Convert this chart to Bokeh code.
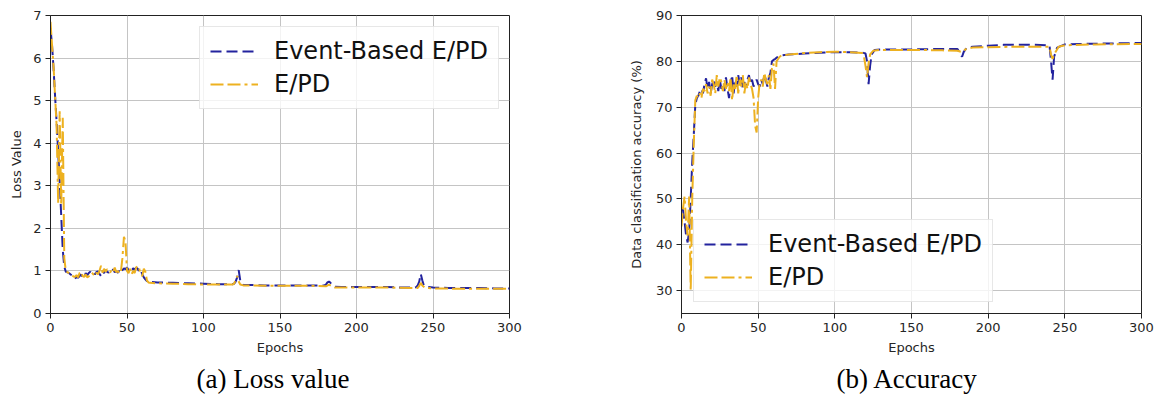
from bokeh.plotting import figure
from bokeh.layouts import row
from bokeh.models import Title, FixedTicker
from bokeh.embed import file_html
from bokeh.resources import INLINE

# ---------------- data ----------------
epochs_dense = list(range(0, 66))

loss_event_dense = [6.70, 6.30, 5.75, 5.10, 4.50, 3.80, 3.10, 2.30, 1.50, 1.10,
                    0.98, 0.97, 0.95, 0.92, 0.90, 0.88, 0.82, 0.86, 0.84, 0.88,
                    0.92, 0.85, 0.83, 0.95, 0.90, 0.95, 0.98, 0.93, 0.96, 0.92,
                    0.97, 0.99, 0.93, 0.88, 1.00, 0.95, 1.02, 0.98, 0.96, 1.00,
                    0.98, 1.04, 0.97, 0.99, 0.96, 1.00, 0.95, 1.02, 1.06, 1.04,
                    1.08, 1.02, 1.05, 1.00, 1.06, 1.03, 1.08, 1.05, 0.98, 1.02,
                    0.92, 0.85, 0.80, 0.76, 0.75, 0.74]
loss_event_tail_x = [70, 80, 90, 100, 110, 119, 120, 121, 122, 123, 124, 125, 126, 130, 140, 150,
                     160, 170, 179, 180, 181, 182, 183, 184, 186, 190, 200, 210, 220, 230, 238,
                     239, 240, 241, 242, 243, 244, 246, 250, 260, 270, 280, 290, 300]
loss_event_tail = [0.73, 0.72, 0.71, 0.70, 0.69, 0.69, 0.70, 0.75, 0.85, 1.02, 0.78, 0.70, 0.67, 0.67, 0.66, 0.66,
                   0.66, 0.66, 0.66, 0.68, 0.73, 0.75, 0.72, 0.68, 0.63, 0.62, 0.62, 0.62, 0.62, 0.61, 0.61,
                   0.62, 0.66, 0.75, 0.93, 0.78, 0.66, 0.63, 0.61, 0.60, 0.60, 0.60, 0.59, 0.59]

loss_epd_dense = [6.85, 6.30, 5.80, 5.10, 4.40, 2.60, 4.75, 2.55, 4.60, 1.30,
                  1.00, 0.97, 0.95, 0.92, 0.90, 0.87, 0.86, 0.90, 0.85, 0.95,
                  0.98, 0.88, 0.86, 0.92, 0.85, 0.87, 0.93, 0.96, 0.92, 0.88,
                  0.96, 0.92, 1.00, 1.12, 0.96, 1.05, 0.98, 1.04, 1.00, 0.96,
                  1.03, 0.98, 1.08, 0.97, 1.00, 0.94, 0.98, 1.30, 1.80, 1.70,
                  1.00, 0.95, 1.05, 0.92, 1.00, 0.95, 1.08, 1.12, 1.05, 0.92,
                  0.88, 1.05, 0.98, 0.78, 0.73, 0.72]
loss_epd_tail_x = [70, 80, 90, 100, 110, 119, 120, 121, 122, 123, 124, 126, 130, 150, 170, 180,
                   182, 184, 186, 200, 220, 240, 241, 242, 243, 245, 250, 270, 300]
loss_epd_tail = [0.71, 0.70, 0.69, 0.68, 0.68, 0.68, 0.70, 0.78, 0.88, 0.75, 0.68, 0.66, 0.66, 0.65, 0.65, 0.64,
                 0.68, 0.64, 0.61, 0.61, 0.61, 0.60, 0.65, 0.72, 0.66, 0.60, 0.59, 0.58, 0.58]

acc_event_dense = [48.0, 47.5, 45.0, 42.0, 40.5, 43.0, 50.0, 58.0, 64.0, 70.5,
                   72.0, 72.5, 73.5, 74.0, 73.0, 75.0, 76.3, 74.0, 75.5, 73.0,
                   75.0, 76.0, 74.5, 75.5, 73.5, 76.0, 74.0, 75.0, 73.5, 76.5,
                   74.0, 72.0, 75.0, 77.0, 73.0, 76.0, 74.5, 77.0, 75.0, 76.5,
                   74.0, 75.5, 74.5, 76.0, 77.0, 75.0, 76.0, 74.5, 75.5, 76.0,
                   75.0, 74.5, 76.0, 75.0, 77.0, 76.0, 74.5, 76.5, 77.5, 80.0,
                   80.3, 80.5, 80.8, 81.0, 81.2, 81.3]
acc_event_tail_x = [70, 80, 90, 100, 110, 118, 120, 121, 122, 123, 124, 126, 130, 150, 170, 180,
                    182, 183, 184, 186, 190, 200, 210, 220, 230, 240, 241, 242, 243, 245,
                    250, 260, 280, 300]
acc_event_tail = [81.5, 81.7, 81.9, 82.0, 82.0, 81.9, 81.7, 80.0, 75.0, 79.0, 81.5, 82.5, 82.6, 82.6, 82.7, 82.7,
                  81.5, 81.0, 82.0, 83.0, 83.2, 83.4, 83.6, 83.6, 83.6, 83.5, 80.0, 76.0, 81.0, 83.0,
                  83.7, 83.8, 83.9, 84.0]

acc_epd_dense = [44.0, 48.0, 50.5, 45.0, 42.0, 50.5, 30.0, 50.0, 62.0, 71.5,
                 72.5, 72.0, 73.0, 72.0, 74.0, 73.5, 75.0, 73.0, 74.5, 72.5,
                 76.0, 75.0, 73.0, 77.0, 74.5, 76.5, 75.5, 73.5, 76.0, 74.0,
                 75.5, 73.5, 76.5, 71.5, 75.0, 74.0, 77.0, 73.0, 76.0, 74.5,
                 77.0, 73.0, 75.5, 74.0, 76.5, 75.0, 74.0, 72.0, 66.0, 64.5,
                 72.0, 75.5, 76.0, 74.5, 77.5, 76.0, 75.0, 77.0, 74.0, 78.5,
                 79.5, 74.0, 80.0, 80.5, 81.0, 81.2]
acc_epd_tail_x = [70, 80, 90, 100, 110, 118, 119, 120, 121, 122, 123, 125, 130, 150, 170, 180,
                  183, 186, 190, 200, 220, 240, 241, 242, 243, 246, 250, 270, 300]
acc_epd_tail = [81.5, 81.8, 82.0, 82.1, 82.0, 81.8, 81.0, 79.0, 76.5, 79.5, 81.5, 82.3, 82.5, 82.5, 82.4, 82.3,
                82.0, 82.8, 83.0, 83.1, 83.2, 83.2, 81.5, 80.5, 81.5, 83.2, 83.5, 83.7, 83.8]

x_ticks = [0, 50, 100, 150, 200, 250, 300]
loss_ticks = [0, 1, 2, 3, 4, 5, 6, 7]
acc_ticks = [30, 40, 50, 60, 70, 80, 90]
captions = ["(a) Loss value", "(b) Accuracy"]

BLUE = "#23239e"
GOLD = "#EDB120"
TICK_FONT = "DejaVu Sans"


def style(p, yticks, ylabel, ylabel_standoff):
    p.xaxis.ticker = FixedTicker(ticks=x_ticks)
    p.yaxis.ticker = FixedTicker(ticks=yticks)
    for ax in (p.xaxis[0], p.yaxis[0]):
        ax.major_tick_out = 5
        ax.major_tick_in = 0
        ax.minor_tick_line_color = None
        ax.axis_line_color = "#222222"
        ax.major_tick_line_color = "#222222"
        ax.major_label_text_font = TICK_FONT
        ax.major_label_text_font_size = "13px"
        ax.major_label_text_color = "#262626"
        ax.major_label_standoff = 4
        ax.axis_label_text_font = TICK_FONT
        ax.axis_label_text_font_size = "13px"
        ax.axis_label_text_font_style = "normal"
        ax.axis_label_text_color = "#262626"
    p.xaxis.axis_label = "Epochs"
    p.xaxis.axis_label_standoff = 5
    p.yaxis.axis_label = ylabel
    p.yaxis.axis_label_standoff = ylabel_standoff
    p.grid.grid_line_color = "#c4c4c4"
    p.grid.grid_line_width = 1
    p.outline_line_color = "#222222"
    p.outline_line_width = 1
    p.background_fill_color = "white"
    p.border_fill_color = "white"


def legend_style(p, loc):
    lg = p.legend[0]
    lg.location = loc
    lg.label_text_font = TICK_FONT
    lg.label_text_font_size = "24px"
    lg.label_text_color = "#111111"
    lg.glyph_width = 48
    lg.label_standoff = 16
    lg.padding = 10
    lg.spacing = 5
    lg.margin = 0
    lg.border_line_color = "#d0d0d0"
    lg.border_line_width = 1
    lg.background_fill_alpha = 0.8


def caption(p, text, offset):
    p.add_layout(Title(text=text, align="left", offset=offset, standoff=8,
                       text_font="Liberation Serif", text_font_size="27px",
                       text_font_style="normal", text_color="black"), "below")


H = 403

# ---------------- left: loss ----------------
p1 = figure(width=600, height=H, x_range=(0, 300), y_range=(0, 7),
            output_backend="svg", toolbar_location=None,
            min_border_left=50, min_border_right=91, min_border_top=15, min_border_bottom=90)
style(p1, loss_ticks, "Loss Value", 6)
p1.line(epochs_dense + loss_event_tail_x, loss_event_dense + loss_event_tail,
        line_color=BLUE, line_width=2, line_dash="11 5", legend_label="Event-Based E/PD")
p1.line(epochs_dense + loss_epd_tail_x, loss_epd_dense + loss_epd_tail,
        line_color=GOLD, line_width=2, line_dash="13 4 13 4 3 4", legend_label="E/PD")
legend_style(p1, (149, 204))
caption(p1, captions[0], 146)

# ---------------- right: accuracy ----------------
p2 = figure(width=557, height=H, x_range=(0, 300), y_range=(25, 90),
            output_backend="svg", toolbar_location=None,
            min_border_left=81, min_border_right=16, min_border_top=15, min_border_bottom=90)
style(p2, acc_ticks, "Data classification accuracy (%)", 9)
p2.line(epochs_dense + acc_event_tail_x, acc_event_dense + acc_event_tail,
        line_color=BLUE, line_width=2, line_dash="11 5", legend_label="Event-Based E/PD")
p2.line(epochs_dense + acc_epd_tail_x, acc_epd_dense + acc_epd_tail,
        line_color=GOLD, line_width=2, line_dash="13 4 13 4 3 4", legend_label="E/PD")
legend_style(p2, (12, 11))
caption(p2, captions[1], 155)

layout = row(p1, p2)
open("out.html", "w").write(file_html(layout, INLINE))
